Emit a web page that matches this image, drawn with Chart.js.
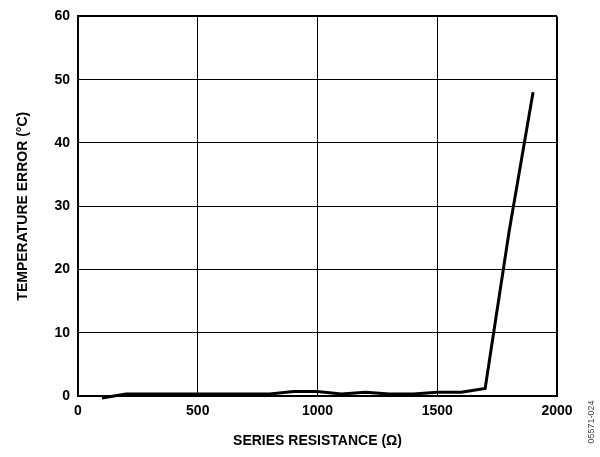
<!DOCTYPE html>
<html>
<head>
<meta charset="utf-8">
<script src="https://cdn.jsdelivr.net/npm/chart.js@4.4.0/dist/chart.umd.min.js"></script>
<style>
    html, body { margin: 0; padding: 0; background: #fff; }
    #wrap { width: 600px; height: 457px; position: relative; }
</style>
</head>
<body>
<div id="wrap"><canvas id="chart-line"></canvas></div>
<script>
// series resistance (ohm) vs temperature error (degC)
var resistance = [100, 200, 300, 400, 500, 600, 700, 800, 900, 1000, 1100, 1200, 1300, 1400, 1500, 1600, 1700, 1800, 1900];
var tempError = [-0.3, 0.3, 0.3, 0.3, 0.3, 0.3, 0.3, 0.3, 0.7, 0.7, 0.3, 0.6, 0.3, 0.3, 0.6, 0.6, 1.2, 26, 48];
var xTicks = [0, 500, 1000, 1500, 2000];
var yTicks = [0, 10, 20, 30, 40, 50, 60];
var xTitle = "SERIES RESISTANCE (Ω)";
var yTitle = "TEMPERATURE ERROR (°C)";
var figId = "05571-024";

var points = resistance.map(function (r, i) { return { x: r, y: tempError[i] }; });

// small rotated figure number at the bottom right
var figLabel = {
    id: "figLabel",
    afterDraw: function (chart) {
        var c = chart.ctx;
        c.save();
        c.translate(592, 422);
        c.rotate(-Math.PI / 2);
        c.font = "9px 'Liberation Sans', Arial";
        c.fillStyle = "#444";
        c.textAlign = "center";
        c.textBaseline = "middle";
        c.fillText(figId, 0, 0);
        c.restore();
    }
};

var tickFont = { family: "'Liberation Sans', Arial", size: 14, weight: "bold" };

new Chart(document.getElementById("chart-line").getContext("2d"), {
    type: "line",
    data: {
        datasets: [{
            data: points,
            borderColor: "#000",
            borderWidth: 3,
            pointRadius: 0,
            tension: 0,
            fill: false,
            clip: false
        }]
    },
    options: {
        responsive: true,
        maintainAspectRatio: false,
        animation: false,
        events: [],
        layout: { padding: { top: 14, right: 43, left: 0, bottom: 0 } },
        plugins: { legend: { display: false }, tooltip: { enabled: false } },
        scales: {
            x: {
                type: "linear",
                min: 0,
                max: 2000,
                afterBuildTicks: function (scale) { scale.ticks = xTicks.map(function (v) { return { value: v }; }); },
                afterFit: function (scale) { scale.height = 61; },
                border: { display: true, color: "#000", width: 2 },
                grid: {
                    color: "#000",
                    lineWidth: function (ctx) { return ctx.tick && ctx.tick.value === 2000 ? 2 : 1; },
                    drawTicks: false
                },
                ticks: {
                    color: "#000",
                    padding: 7,
                    font: tickFont,
                    maxRotation: 0,
                    callback: function (v) { return String(v); }
                },
                title: {
                    display: true,
                    text: xTitle,
                    color: "#000",
                    font: tickFont,
                    padding: { top: 0, bottom: 7 }
                }
            },
            y: {
                min: 0,
                max: 60,
                afterBuildTicks: function (scale) { scale.ticks = yTicks.map(function (v) { return { value: v }; }); },
                afterFit: function (scale) { scale.width = 78; },
                border: { display: true, color: "#000", width: 2 },
                grid: {
                    color: "#000",
                    lineWidth: function (ctx) { return ctx.tick && ctx.tick.value === 60 ? 2 : 1; },
                    drawTicks: false
                },
                ticks: { color: "#000", padding: 8, font: tickFont },
                title: {
                    display: true,
                    text: yTitle,
                    color: "#000",
                    font: tickFont,
                    padding: { top: 15, bottom: 0 }
                }
            }
        }
    },
    plugins: [figLabel]
});
</script>
</body>
</html>
